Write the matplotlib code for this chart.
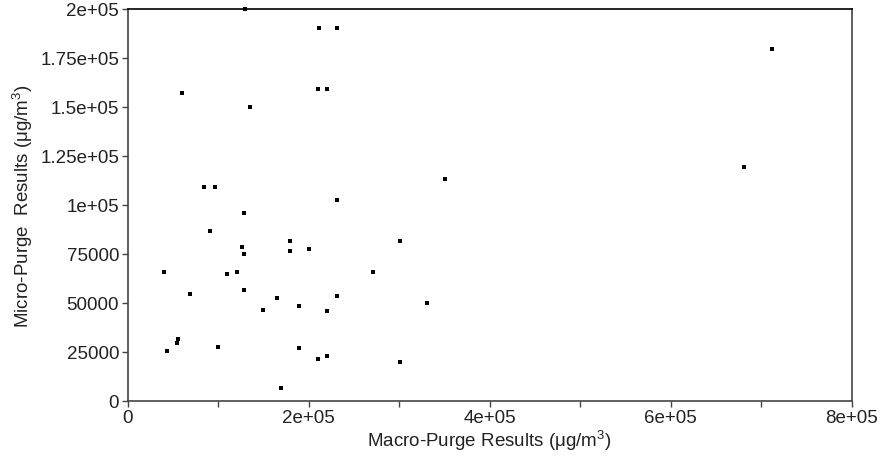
import numpy as np
import matplotlib.pyplot as plt
from matplotlib.ticker import MultipleLocator, FixedLocator, FixedFormatter

plt.rcParams['font.family'] = ['Liberation Sans', 'DejaVu Sans']
plt.rcParams['mathtext.default'] = 'regular'

# Macro-purge (x) vs micro-purge (y) results, ug/m3
macro = [130000, 60000, 135000, 85000, 97000, 211000, 231000, 210000, 220000, 231000,
         129000, 91000, 126000, 129000, 180000, 180000, 200000, 301000, 40000, 110000,
         121000, 271000, 69000, 129000, 165000, 231000, 150000, 189000, 220000, 44000,
         54500, 56000, 100000, 189000, 210000, 220000, 301000, 170000, 331000, 351000,
         681000, 712000]
micro = [200000, 157000, 150000, 109000, 109000, 190000, 190000, 159000, 159000, 102500,
         96000, 86500, 78300, 74800, 81500, 76200, 77600, 81600, 65500, 64600,
         65500, 65500, 54600, 56600, 52600, 53300, 46400, 48500, 45800, 25500,
         29600, 31500, 27600, 26900, 21400, 22800, 19500, 6600, 49900, 113300,
         119400, 179400]

y_ticks = [0, 25000, 50000, 75000, 100000, 125000, 150000, 175000, 200000]
y_labels = ['0', '25000', '50000', '75000', '1e+05', '1.25e+05', '1.5e+05', '1.75e+05', '2e+05']
x_ticks = [0, 200000, 400000, 600000, 800000]
x_labels = ['0', '2e+05', '4e+05', '6e+05', '8e+05']

fig = plt.figure(figsize=(8.83, 4.60), dpi=100)
ax = fig.add_axes([0.1444, 0.1267, 0.8202, 0.8523])

ax.scatter(macro, micro, marker='s', s=9, c='black', linewidths=0, clip_on=False, zorder=3)

ax.set_xlim(0, 800000)
ax.set_ylim(0, 200000)
ax.xaxis.set_major_locator(FixedLocator(x_ticks))
ax.xaxis.set_major_formatter(FixedFormatter(x_labels))
ax.xaxis.set_minor_locator(MultipleLocator(100000))
ax.yaxis.set_major_locator(FixedLocator(y_ticks))
ax.yaxis.set_major_formatter(FixedFormatter(y_labels))

for side in ['left', 'bottom', 'right']:
    ax.spines[side].set_color('#444444')
ax.spines['top'].set_color('black')
for sp in ax.spines.values():
    sp.set_linewidth(1.2)

ax.tick_params(which='both', direction='out', length=4, width=1, color='#444444',
               labelsize=13.5, labelcolor='#222222', pad=2)

ax.set_xlabel('Macro-Purge Results ($\\mu$g/m$^3$)', fontsize=13.5, color='#222222', labelpad=1)
ax.set_ylabel('Micro-Purge  Results ($\\mu$g/m$^3$)', fontsize=13.5, color='#222222', labelpad=4)

plt.savefig('out.png', dpi=100)
